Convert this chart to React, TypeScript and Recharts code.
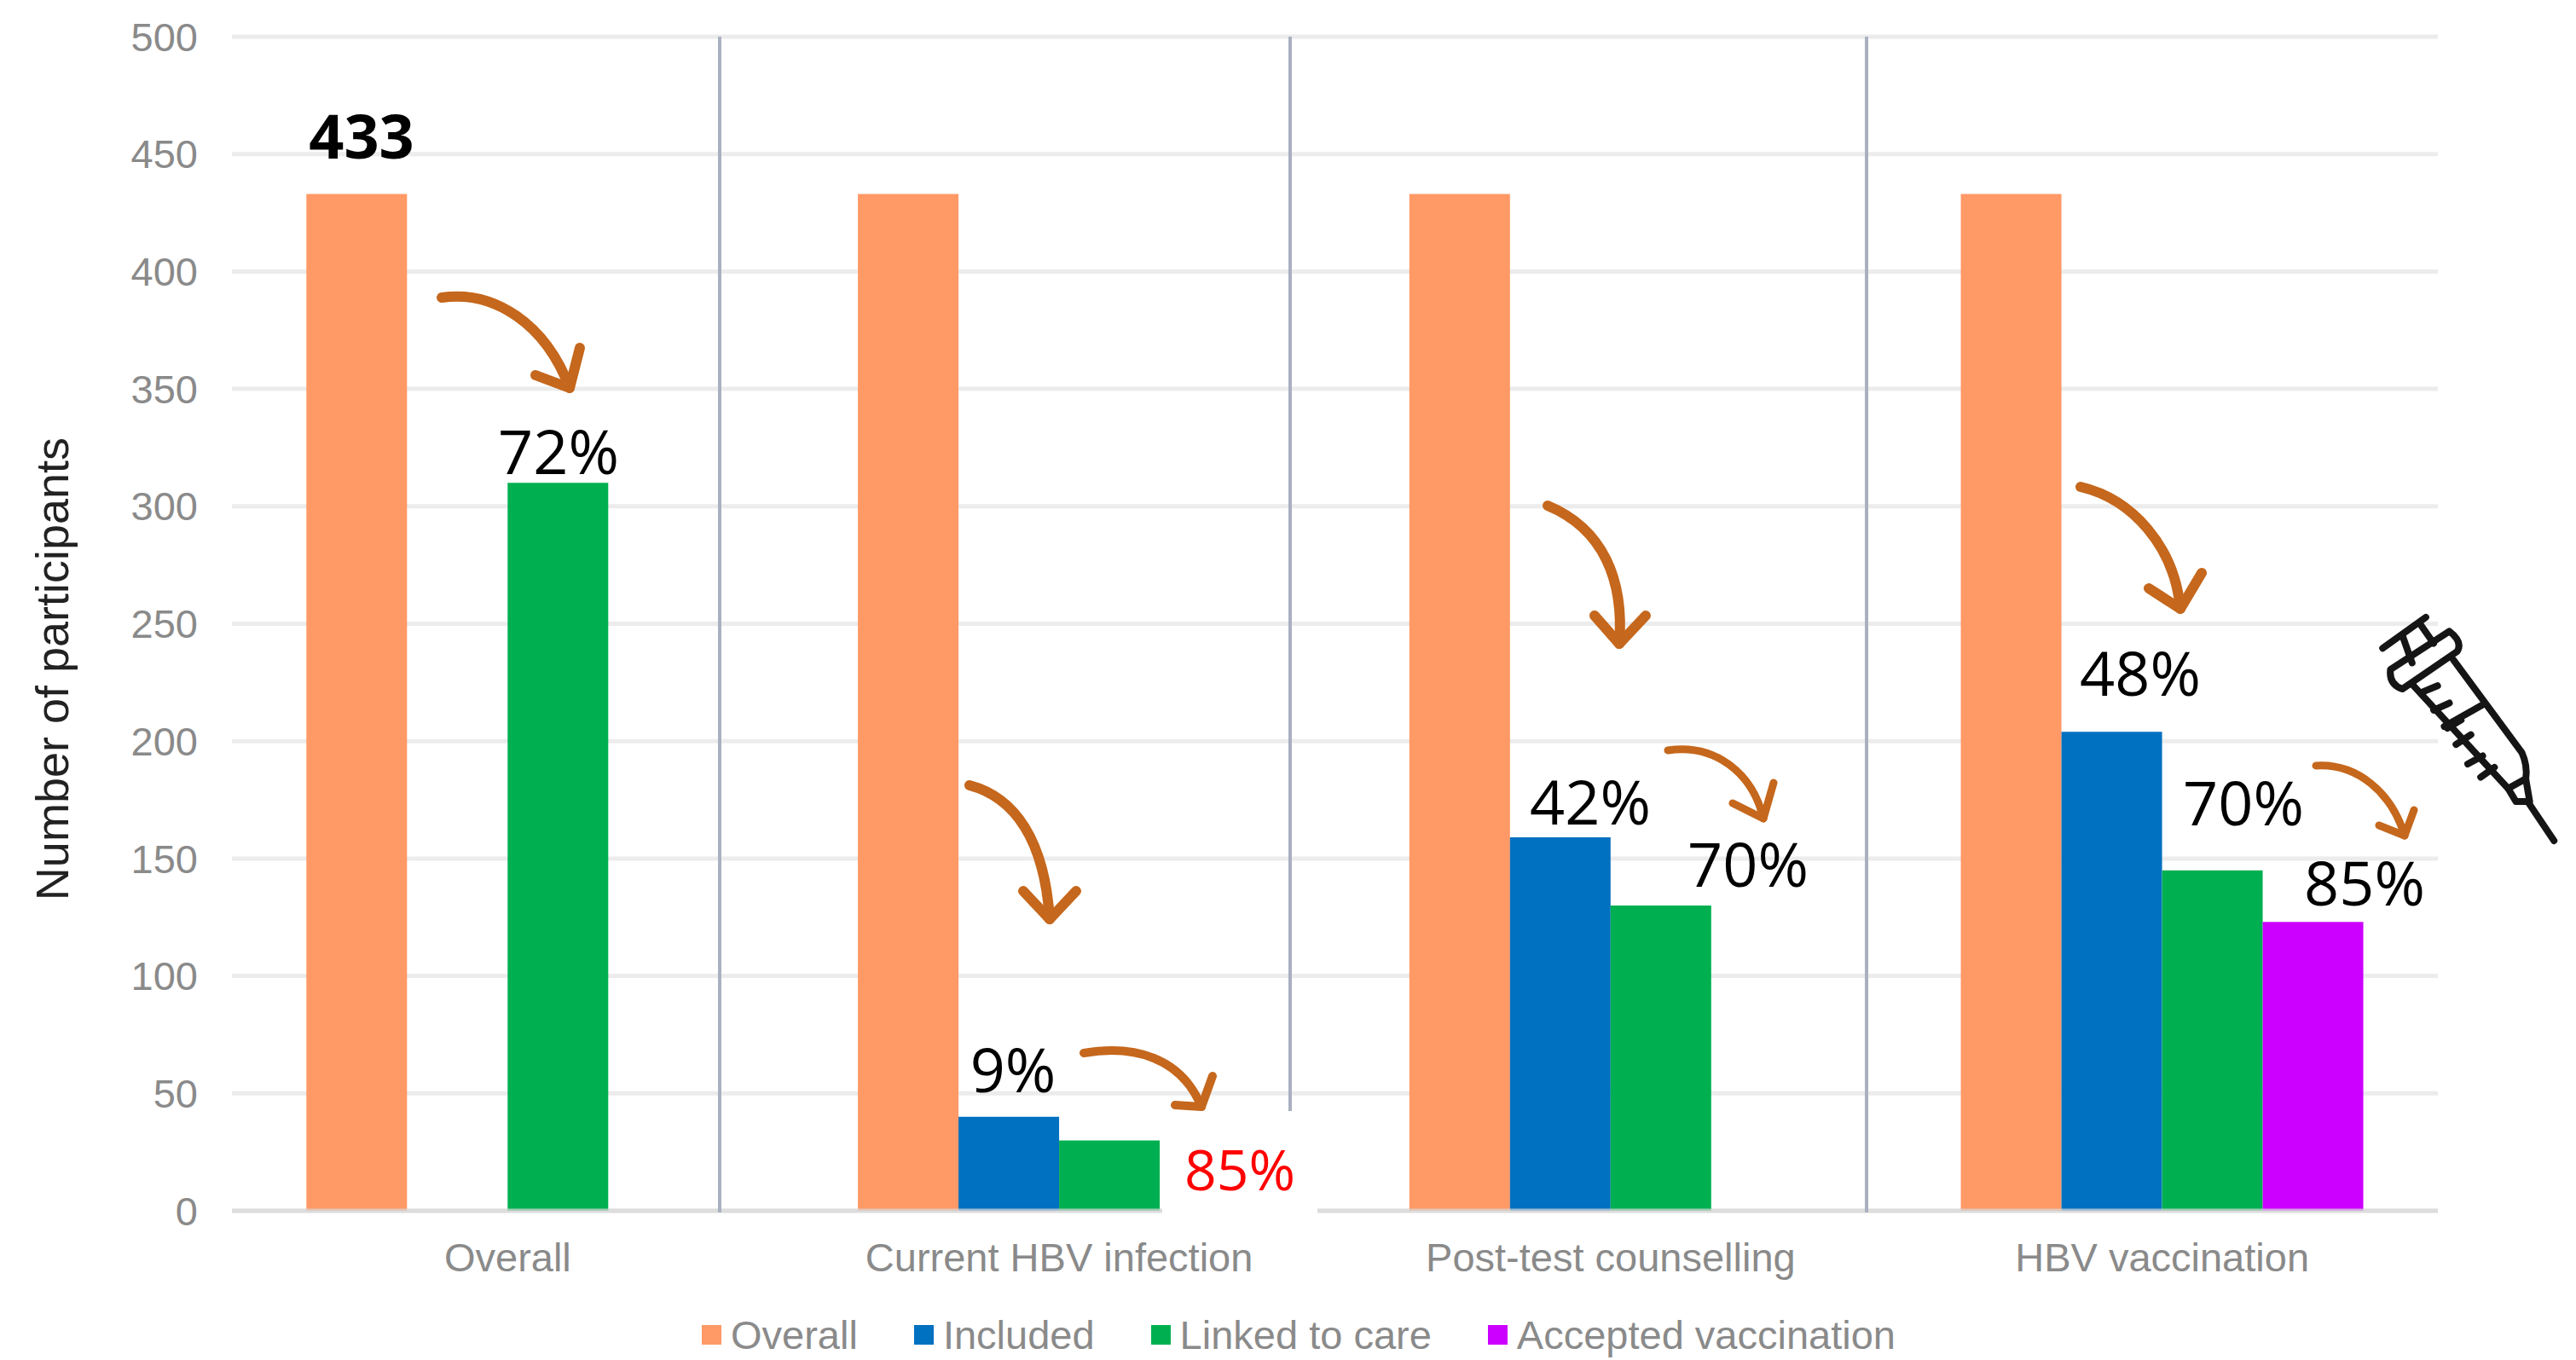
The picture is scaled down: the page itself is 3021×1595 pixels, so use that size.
import { BarChart, Bar, XAxis, YAxis, CartesianGrid, Legend, ReferenceLine } from 'recharts';

const categories = ['Overall', 'Current HBV infection', 'Post-test counselling', 'HBV vaccination'];
const overall = [433, 433, 433, 433];
const included = [null, 40, 159, 204];
const linkedToCare = [310, 30, 130, 145];
const acceptedVaccination = [null, null, null, 123];
const yTicks = [0, 50, 100, 150, 200, 250, 300, 350, 400, 450, 500];

const data = categories.map((name, i) => ({
  name,
  overall: overall[i],
  included: included[i],
  linked: linkedToCare[i],
  accepted: acceptedVaccination[i],
}));

const W = 3021;
const H = 1595;
const ARROW = '#c5671c';
const SANS = '"Liberation Sans", Arial, sans-serif';
const CALLOUT = '"Open Sans", sans-serif';

function Arrow({ curve, head, width = 12 }: { curve: string; head: string; width?: number }) {
  return (
    <g fill="none" stroke={ARROW} strokeWidth={width} strokeLinecap="round" strokeLinejoin="round">
      <path d={curve} />
      <path d={head} />
    </g>
  );
}

function Pct({ x, y, text, color = '#000', bold = false, size = 72 }: { x: number; y: number; text: string; color?: string; bold?: boolean; size?: number }) {
  return (
    <text x={x} y={y} textAnchor="middle" fontFamily={CALLOUT} fontSize={size} fontWeight={bold ? 700 : 400} fill={color}>
      {text}
    </text>
  );
}

// syringe, drawn in a zoomed crop's coordinates
function Syringe() {
  const line = { vectorEffect: 'non-scaling-stroke' } as const;
  return (
    <g transform="translate(2300 500) scale(0.4598 0.3827)" fill="none" stroke="#151515" strokeWidth={8} strokeLinejoin="round" strokeLinecap="round">
      <path {...line} d="M1075 680 L1185 585" />
      <path {...line} d="M1125 640 L1150 725 M1170 605 L1205 665" />
      <path {...line} d="M1095 745 L1245 628 Q1280 660 1265 690 L1125 805 Q1090 790 1095 745 Z" />
      <path {...line} d="M1150 790 L1395 1110 L1440 1080 Q1445 1040 1430 1000 L1255 715" />
      <path {...line} d="M1232 920 L1335 850" />
      <path {...line} d="M1175 815 L1215 795 M1205 870 L1245 848 M1240 925 L1275 900 M1262 975 L1300 945 M1292 1035 L1330 1010 M1325 1075 L1360 1045" />
      <path {...line} d="M1395 1110 L1415 1150 L1450 1150 L1440 1080" />
      <path {...line} d="M1445 1150 L1512 1270" />
    </g>
  );
}

function LegendRow({ payload }: any) {
  return (
    <div style={{ display: 'flex', paddingLeft: 823, paddingTop: 33, fontFamily: SANS, fontSize: 47, color: '#8a8a8a' }}>
      {(payload || []).map((item: any) => (
        <div key={item.value} style={{ display: 'flex', alignItems: 'center', marginRight: 66 }}>
          <span style={{ width: 23, height: 23, background: item.color, marginRight: 11 }} />
          <span>{item.value}</span>
        </div>
      ))}
    </div>
  );
}

export default function App() {
  return (
    <div style={{ position: 'absolute', left: 0, top: 0, width: W, height: H, background: '#fff' }}>
      <BarChart
        width={W}
        height={H}
        data={data}
        margin={{ top: 43, right: 162, bottom: 0, left: 0 }}
        barGap={0}
        barCategoryGap="13.5%"
      >
        <CartesianGrid horizontal vertical={false} stroke="#ececec" strokeWidth={5} />
        <XAxis
          dataKey="name"
          axisLine={false}
          tickLine={false}
          height={85}
          tickMargin={32}
          interval={0}
          tick={{ fontFamily: SANS, fontSize: 47, fill: '#8a8a8a' }}
        />
        <YAxis
          domain={[0, 500]}
          ticks={yTicks}
          width={272}
          axisLine={false}
          tickLine={false}
          tickMargin={34}
          tick={{ fontFamily: SANS, fontSize: 47, fill: '#8a8a8a' }}
          label={{
            value: 'Number of participants',
            angle: -90,
            position: 'insideLeft',
            offset: 61,
            dy: 53,
            style: { fontFamily: SANS, fontSize: 54, fill: '#222', textAnchor: 'middle' },
          }}
        />
        <Legend verticalAlign="bottom" height={90} itemSorter={null} content={<LegendRow />} wrapperStyle={{ left: 0, width: W }} />
        <Bar dataKey="overall" name="Overall" fill="#ff9966" isAnimationActive={false} />
        <Bar dataKey="included" name="Included" fill="#0070c0" isAnimationActive={false} />
        <Bar dataKey="linked" name="Linked to care" fill="#00b050" isAnimationActive={false} />
        <Bar dataKey="accepted" name="Accepted vaccination" fill="#cc00ff" isAnimationActive={false} />
        <ReferenceLine y={0} stroke="#d8d8d8" strokeOpacity={0.75} strokeWidth={5} />
      </BarChart>

      <svg width={W} height={H} style={{ position: 'absolute', left: 0, top: 0, pointerEvents: 'none' }}>
        <g stroke="#a9b0c0" strokeWidth={4}>
          <line x1={844} y1={43} x2={844} y2={1422} />
          <line x1={1513} y1={43} x2={1513} y2={1303} />
          <line x1={2189} y1={43} x2={2189} y2={1422} />
        </g>
        <rect x={1363} y={1303} width={182} height={127} fill="#fff" />

        <Arrow curve="M518 349 C580 340,640 380,668 455" head="M628 440 L668 455 L680 408" />
        <Arrow curve="M1137 921 C1190 935,1225 985,1231 1078" head="M1200 1045 L1231 1078 L1262 1045" />
        <Arrow curve="M1271 1235 C1330 1225,1385 1240,1409 1298" head="M1378 1296 L1409 1298 L1422 1262" width={10} />
        <Arrow curve="M1815 593 C1880 620,1905 680,1899 755" head="M1870 722 L1899 755 L1930 722" />
        <Arrow curve="M1956 880 C2010 872,2055 905,2068 960" head="M2032 942 L2068 960 L2080 918" width={9} />
        <Arrow curve="M2440 571 C2500 585,2550 640,2557 714" head="M2520 690 L2557 714 L2582 672" />
        <Arrow curve="M2716 898 C2765 895,2805 930,2820 980" head="M2790 968 L2820 980 L2831 950" width={9} />

        <Pct x={424} y={186} text="433" bold />
        <Pct x={655} y={556} text="72%" />
        <Pct x={1188} y={1281} text="9%" />
        <Pct x={1454} y={1396} text="85%" color="#ff0000" size={66} />
        <Pct x={1865} y={967} text="42%" />
        <Pct x={2050} y={1040} text="70%" />
        <Pct x={2510} y={816} text="48%" />
        <Pct x={2631} y={968} text="70%" />
        <Pct x={2773} y={1062} text="85%" />

        <Syringe />
      </svg>
    </div>
  );
}
